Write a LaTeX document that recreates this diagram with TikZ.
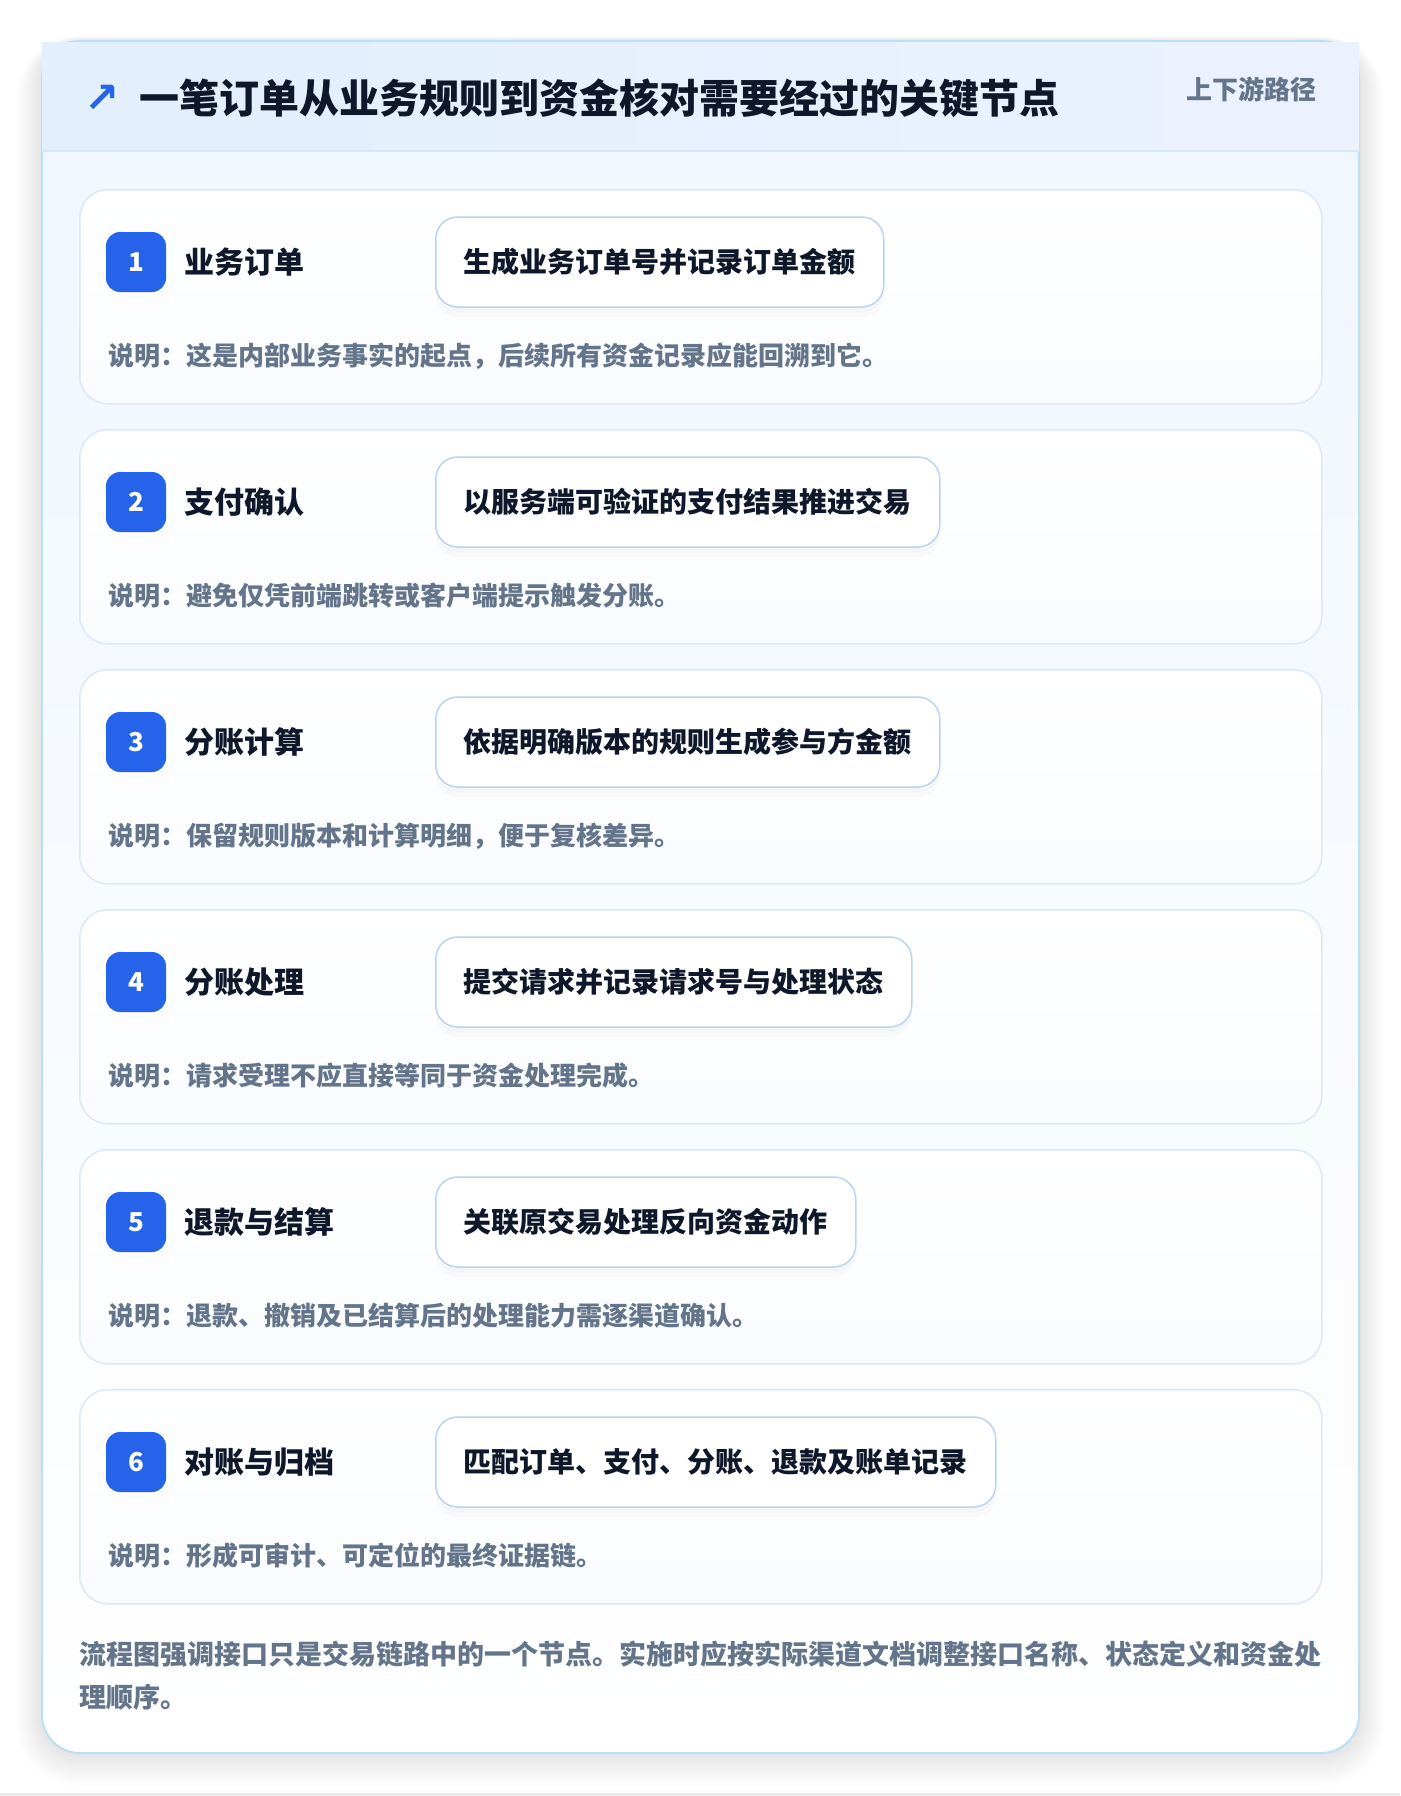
\documentclass[tikz,border=0pt]{standalone}
\usepackage{fontspec}
\setmainfont{Noto Sans CJK SC}
\newfontfamily\symfont{DejaVu Sans}
\usetikzlibrary{positioning,shadows}

\definecolor{brandblue}{HTML}{2563EB}
\definecolor{inkdark}{HTML}{0F172A}
\definecolor{inkgray}{HTML}{64748B}
\definecolor{cardline}{HTML}{DCE8F8}
\definecolor{boxline}{HTML}{BCD4F2}
\definecolor{frameline}{HTML}{BDDFF6}
\definecolor{headleft}{HTML}{E2EFFD}
\definecolor{headright}{HTML}{ECF1FE}
\definecolor{headrule}{HTML}{D8E7F8}
\definecolor{bodytop}{HTML}{EFF6FF}

\tikzset{
    stepcard/.style={draw=cardline, line width=1.5pt, rounded corners=28pt,
        top color=white, bottom color=bodytop!35, minimum width=1242pt,
        minimum height=214pt, anchor=north west, inner sep=0pt},
    numbadge/.style={fill=brandblue, rounded corners=14pt, minimum width=60pt,
        minimum height=60pt, inner sep=0pt, text=white,
        font=\bfseries\fontsize{26}{26}\selectfont},
    steplabel/.style={inner sep=0pt, text=inkdark,
        font=\bfseries\fontsize{30}{30}\selectfont},
    detailbox/.style={anchor=west, draw=boxline, line width=1.5pt, fill=white,
        rounded corners=22pt, minimum height=90pt, inner xsep=28pt, text=inkdark,
        font=\bfseries\fontsize{28}{28}\selectfont,
        drop shadow={shadow xshift=0pt, shadow yshift=-10pt, opacity=0.03},
        drop shadow={shadow xshift=0pt, shadow yshift=-5pt, opacity=0.03}},
    desctext/.style={anchor=west, inner sep=0pt, text=inkgray,
        font=\bfseries\fontsize{26}{26}\selectfont},
}

\begin{document}
\begin{tikzpicture}[x=1pt, y=-1pt]
    \useasboundingbox [fill=white] (0,0) rectangle (1400,1796);
    \fill [black!8] (0,1793) rectangle (1400,1796);
    \foreach \s in {1,...,26}
        \fill [black, opacity=0.0032, rounded corners=38pt+\s pt]
            (42-\s,41-\s*0.2) rectangle (1359+\s,1753+\s*1.3);
    \draw [frameline, line width=2pt, rounded corners=38pt, top color=bodytop, bottom color=white]
        (42,41) rectangle (1359,1753);
    \shade [left color=headleft, right color=headright] (42,42) rectangle (1359,151);
    \draw [headrule, line width=2pt] (42,151) -- (1359,151);
    \node [text=brandblue, font=\symfont\bfseries\fontsize{42}{42}\selectfont, inner sep=0pt]
        (titleicon) at (102,99) {↗};
    \node [anchor=west, inner sep=0pt, text=inkdark, font=\bfseries\fontsize{40}{40}\selectfont]
        (title) at (139,98) {一笔订单从业务规则到资金核对需要经过的关键节点};
    \node [anchor=east, inner sep=0pt, text=inkgray, font=\bfseries\fontsize{26}{26}\selectfont]
        (pathtag) at (1317,89) {上下游路径};
    \foreach \n/\lab/\det/\des in {
        1/业务订单/生成业务订单号并记录订单金额/说明：这是内部业务事实的起点，后续所有资金记录应能回溯到它。,
        2/支付确认/以服务端可验证的支付结果推进交易/说明：避免仅凭前端跳转或客户端提示触发分账。,
        3/分账计算/依据明确版本的规则生成参与方金额/说明：保留规则版本和计算明细，便于复核差异。,
        4/分账处理/提交请求并记录请求号与处理状态/说明：请求受理不应直接等同于资金处理完成。,
        5/退款与结算/关联原交易处理反向资金动作/说明：退款、撤销及已结算后的处理能力需逐渠道确认。,
        6/对账与归档/匹配订单、支付、分账、退款及账单记录/说明：形成可审计、可定位的最终证据链。}
    {
        \pgfmathsetmacro{\cardtop}{189+240*(\n-1)}
        \node [stepcard] (card\n) at (79,\cardtop) {};
        \node [numbadge] (badge\n) at (136,\cardtop+73) {\n};
        \node [steplabel, right=18pt of badge\n] (label\n) {\lab};
        \node [detailbox] (detail\n) at (435,\cardtop+73) {\det};
        \node [desctext] (desc\n) at (108,\cardtop+167) {\des};
    }
    \node [anchor=west, align=left, inner sep=0pt, text=inkgray,
        font=\bfseries\fontsize{27}{43}\selectfont] (footnote) at (79,1676)
        {流程图强调接口只是交易链路中的一个节点。实施时应按实际渠道文档调整接口名称、状态定义和资金处\\理顺序。};
\end{tikzpicture}
\end{document}
